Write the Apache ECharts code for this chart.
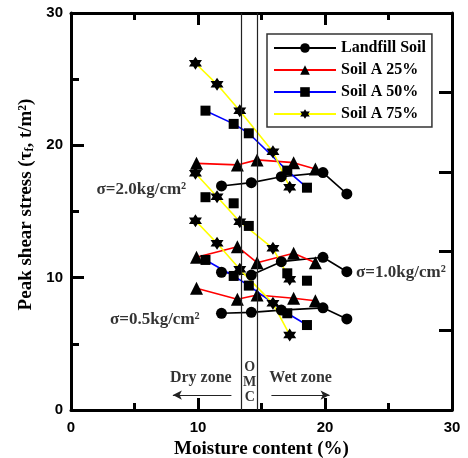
<!DOCTYPE html>
<html>
<head>
<meta charset="utf-8">
<title>Peak shear stress vs moisture content</title>
<script src="https://cdn.jsdelivr.net/npm/echarts@6/dist/echarts.min.js"></script>
<style>
	* { margin: 0; padding: 0; }
	html, body { width: 468px; height: 458px; background: #fff; }
	#main { width: 468px; height: 458px; }
</style>
</head>
<body>
<div id="main"></div>
<script>
	// x (moisture %) for each soil, y (peak shear stress) for sigma = 2.0 / 1.0 / 0.5
	var landX  = [11.85, 14.2, 16.56, 19.84, 21.72];
	var land20 = [16.93, 17.18, 17.63, 17.94, 16.33];
	var land10 = [10.41, 10.2, 11.21, 11.54, 10.45];
	var land05 = [7.31, 7.38, 7.55, 7.72, 6.88];

	var a25X  = [9.88, 13.1, 14.65, 17.53, 19.24];
	var a25_20 = [18.64, 18.52, 18.9, 18.69, 18.21];
	var a25_10 = [11.54, 12.34, 11.13, 11.84, 11.13];
	var a25_05 = [9.2, 8.37, 8.69, 8.44, 8.26];

	var a50X  = [10.59, 12.81, 14.0, 17.03, 18.58];
	var a50_20 = [22.62, 21.62, 20.91, 18.09, 16.8];
	var a50_10 = [16.08, 15.62, 13.91, 10.33, 9.77];
	var a50_05 = [11.34, 10.13, 9.4, 7.31, 6.42];

	var a75X  = [9.8, 11.5, 13.29, 15.9, 17.22];
	var a75_20 = [26.2, 24.61, 22.62, 19.52, 16.83];
	var a75_10 = [17.89, 16.12, 14.23, 12.22, 9.88];
	var a75_05 = [14.31, 12.6, 10.63, 8.06, 5.67];

	var legendNames = ['Landfill Soil', 'Soil A 25%', 'Soil A 50%', 'Soil A 75%'];

	// OMC band and text notes
	var omcLines = [13.4, 14.7];
	var noteText = ['σ=2.0kg/cm²', 'σ=1.0kg/cm²', 'σ=0.5kg/cm²', 'Dry zone', 'Wet zone', 'O\nM\nC'];
	var noteX = [5.54, 25.98, 6.6, 10.22, 18.08, 14.07];
	var noteY = [16.63, 10.36, 6.8, 2.42, 2.42, 2.1];
	var noteSize = [17, 17, 17, 16, 16, 14];
	var dryArrow = [[12.63, 1.13], [8.02, 1.13]];
	var wetArrow = [[15.78, 1.13], [20.36, 1.13]];

	var SERIF = '"Liberation Serif", "Times New Roman", serif';
	var SANS = '"Liberation Sans", Arial, sans-serif';
	var STAR = 'path://M5,0 L10,8.66 L0,8.66 Z M0,2.89 L10,2.89 L5,11.55 Z';

	function pairs(xs, ys) {
		var out = [];
		for (var i = 0; i < xs.length; i++) out.push([xs[i], ys[i]]);
		return out;
	}

	function mkSeries(name, xs, ys, lineColor, symbol, size, noLine) {
		return {
			name: name,
			type: 'line',
			data: pairs(xs, ys),
			symbol: symbol,
			symbolSize: size,
			showSymbol: true,
			itemStyle: { color: '#000' },
			lineStyle: { color: lineColor, width: 1.6, opacity: noLine ? 0 : 1 },
			emphasis: { disabled: true },
			z: 3
		};
	}

	var series = [
		mkSeries(legendNames[0], landX, land20, '#000', 'circle', 11),
		mkSeries(legendNames[0], landX, land10, '#000', 'circle', 11),
		mkSeries(legendNames[0], landX, land05, '#000', 'circle', 11),
		mkSeries(legendNames[1], a25X, a25_20, '#ff0000', 'triangle', 13),
		mkSeries(legendNames[1], a25X, a25_10, '#ff0000', 'triangle', 13),
		mkSeries(legendNames[1], a25X, a25_05, '#ff0000', 'triangle', 13),
		mkSeries(legendNames[2], a50X, a50_20, '#0000ff', 'rect', 10),
		mkSeries(legendNames[2], a50X, a50_10, '#0000ff', 'rect', 10, true),
		mkSeries(legendNames[2], a50X, a50_05, '#0000ff', 'rect', 10),
		mkSeries(legendNames[3], a75X, a75_20, '#ffff00', STAR, 13),
		mkSeries(legendNames[3], a75X, a75_10, '#ffff00', STAR, 13),
		mkSeries(legendNames[3], a75X, a75_05, '#ffff00', STAR, 13)
	];

	var notes = [];
	for (var i = 0; i < noteText.length; i++) {
		notes.push({ value: [noteX[i], noteY[i]], name: noteText[i], label: { fontSize: noteSize[i] } });
	}
	series.push({
		name: 'notes',
		type: 'scatter',
		data: notes,
		symbolSize: 1,
		itemStyle: { color: 'transparent' },
		silent: true,
		label: {
			show: true,
			position: 'inside',
			formatter: function (p) { return p.data.name; },
			fontFamily: SERIF,
			fontWeight: 'bold',
			fontSize: 17,
			color: '#000',
			lineHeight: 15
		},
		markLine: {
			silent: true,
			symbol: ['none', 'none'],
			label: { show: false },
			lineStyle: { color: '#222', width: 1.2, type: 'solid' },
			data: [
				{ xAxis: omcLines[0] },
				{ xAxis: omcLines[1] },
				[{ coord: dryArrow[0], symbol: 'none' }, { coord: dryArrow[1], symbol: 'arrow', symbolSize: [7, 9] }],
				[{ coord: wetArrow[0], symbol: 'none' }, { coord: wetArrow[1], symbol: 'arrow', symbolSize: [7, 9] }]
			]
		},
		z: 4
	});

	var myChart = echarts.init(document.getElementById('main'));

	var axisLine = { show: true, onZero: false, lineStyle: { color: '#000', width: 3 } };

	var option = {
		animation: false,
		backgroundColor: '#fff',
		grid: { left: 71, right: 16, top: 13, bottom: 48, containLabel: false, outerBoundsMode: 'none' },
		legend: {
			data: legendNames,
			orient: 'vertical',
			left: 267,
			top: 34,
			itemWidth: 62,
			itemHeight: 12,
			itemGap: 6,
			padding: [6, 6, 5, 6],
			borderColor: '#333',
			borderWidth: 1.5,
			backgroundColor: '#fff',
			selectedMode: false,
			textStyle: { fontFamily: SERIF, fontWeight: 'bold', fontSize: 16, color: '#000' }
		},
		xAxis: [{
			type: 'value',
			min: 0, max: 30, interval: 10,
			axisLine: axisLine,
			axisTick: { inside: true, length: 12, lineStyle: { width: 3, color: '#000' } },
			minorTick: { show: true, splitNumber: 2, length: 7, lineStyle: { width: 3, color: '#000' } },
			axisLabel: { fontFamily: SANS, fontWeight: 'bold', fontSize: 15, color: '#000', margin: 10 },
			splitLine: { show: false },
			name: 'Moisture content (%)',
			nameLocation: 'middle',
			nameGap: 28,
			nameTextStyle: { fontFamily: SERIF, fontWeight: 'bold', fontSize: 19, color: '#000' }
		}, {
			type: 'value',
			position: 'top',
			min: 0, max: 30, interval: 10,
			axisLine: axisLine,
			axisTick: { inside: true, length: 12, lineStyle: { width: 3, color: '#000' } },
			minorTick: { show: true, splitNumber: 2, length: 7, lineStyle: { width: 3, color: '#000' } },
			axisLabel: { show: false },
			splitLine: { show: false }
		}],
		yAxis: [{
			type: 'value',
			min: 0, max: 30, interval: 10,
			axisLine: axisLine,
			axisTick: { inside: true, length: 13, lineStyle: { width: 3, color: '#000' } },
			minorTick: { show: true, splitNumber: 2, length: 8, lineStyle: { width: 3, color: '#000' } },
			axisLabel: { fontFamily: SANS, fontWeight: 'bold', fontSize: 15, color: '#000', margin: 8 },
			splitLine: { show: false },
			name: 'Peak shear stress (τ{sub|f}, t/m²)',
			nameLocation: 'middle',
			nameRotate: 90,
			nameGap: 34,
			nameTextStyle: {
				fontFamily: SERIF, fontWeight: 'bold', fontSize: 19, color: '#000',
				padding: [0, 0, 0, 14],
				rich: {
					sub: { fontFamily: SERIF, fontWeight: 'bold', fontSize: 12, color: '#000', verticalAlign: 'bottom' }
				}
			}
		}, {
			type: 'value',
			position: 'right',
			min: 0, max: 30, interval: 6,
			axisLine: axisLine,
			axisTick: { inside: true, length: 13, lineStyle: { width: 3, color: '#000' } },
			axisLabel: { show: false },
			splitLine: { show: false }
		}],
		series: series
	};

	myChart.setOption(option);
</script>
</body>
</html>
